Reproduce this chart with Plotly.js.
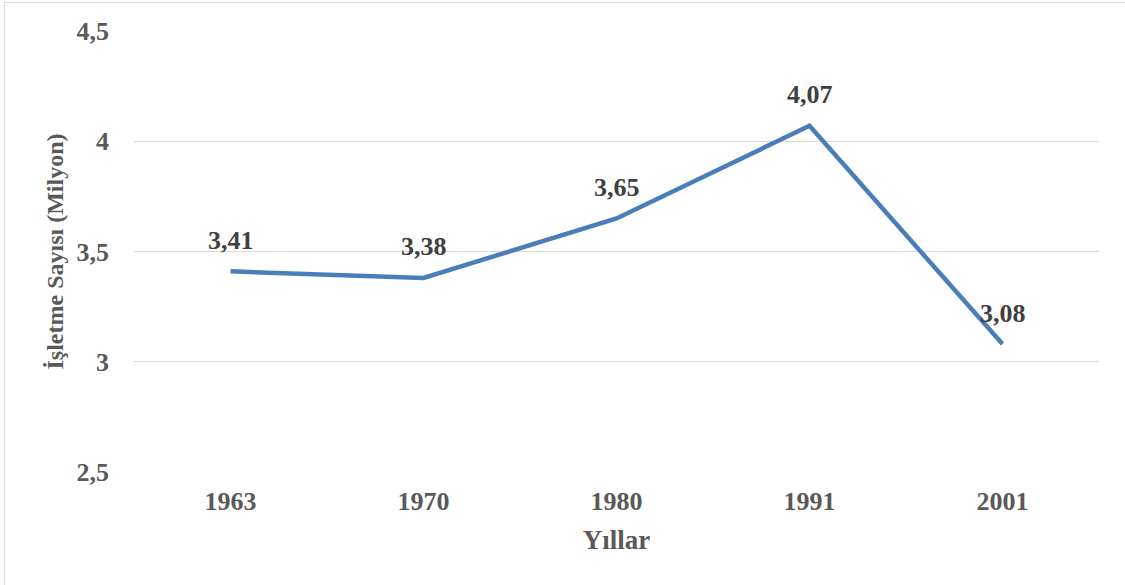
<!DOCTYPE html>
<html>
<head>
<meta charset="utf-8">
<script src="https://cdn.plot.ly/plotly-3.0.1.min.js"></script>
<style>
html,body{margin:0;padding:0;background:#fff;overflow:hidden;}
#frame{position:absolute;left:4px;top:2px;width:1200px;height:700px;border:1px solid #d9d9d9;}
#chart{position:absolute;left:0;top:0;width:1125px;height:585px;}
</style>
</head>
<body>
<div id="frame"></div>
<div id="chart"></div>
<script>
const years = ['1963', '1970', '1980', '1991', '2001'];
const farms = [3.41, 3.38, 3.65, 4.07, 3.08];
const labels = farms.map(v => v.toFixed(2).replace('.', ','));

const FONT = 'Liberation Serif, DejaVu Serif, serif';

const trace = {
  x: years,
  y: farms,
  type: 'scatter',
  mode: 'lines',
  line: {color: '#4a7ebb', width: 4.5},
  hoverinfo: 'skip'
};

const annotations = years.map((yr, i) => ({
  x: i, y: farms[i], xref: 'x', yref: 'y',
  text: labels[i], showarrow: false,
  yshift: 31,
  font: {family: FONT, size: 26, color: '#404040', weight: 'bold'}
}));

const layout = {
  width: 1125, height: 585,
  margin: {l: 134, r: 26, t: 31, b: 113},
  paper_bgcolor: 'rgba(0,0,0,0)',
  plot_bgcolor: 'rgba(0,0,0,0)',
  separators: ',.',
  showlegend: false,
  font: {family: FONT, color: '#595959'},
  xaxis: {
    type: 'category',
    range: [-0.5, 4.5],
    showgrid: false, zeroline: false, showline: false,
    ticks: '',
    ticklabelstandoff: 11,
    tickfont: {family: FONT, size: 26, color: '#595959', weight: 'bold'},
    title: {text: 'Yıllar', standoff: 15, font: {family: FONT, size: 27, color: '#595959', weight: 'bold'}}
  },
  yaxis: {
    range: [2.5, 4.5],
    dtick: 0.5,
    tick0: 2.5,
    showgrid: true, gridcolor: '#d9d9d9', gridwidth: 1.3,
    zeroline: false, showline: false,
    ticks: '', ticklen: 0,
    ticklabelstandoff: 24,
    tickfont: {family: FONT, size: 26, color: '#595959', weight: 'bold'},
    title: {text: 'İşletme Sayısı (Milyon)', standoff: 6, font: {family: FONT, size: 24, color: '#595959', weight: 'bold'}}
  },
  annotations: annotations
};

Plotly.newPlot('chart', [trace], layout, {displayModeBar: false, staticPlot: true});
</script>
</body>
</html>
